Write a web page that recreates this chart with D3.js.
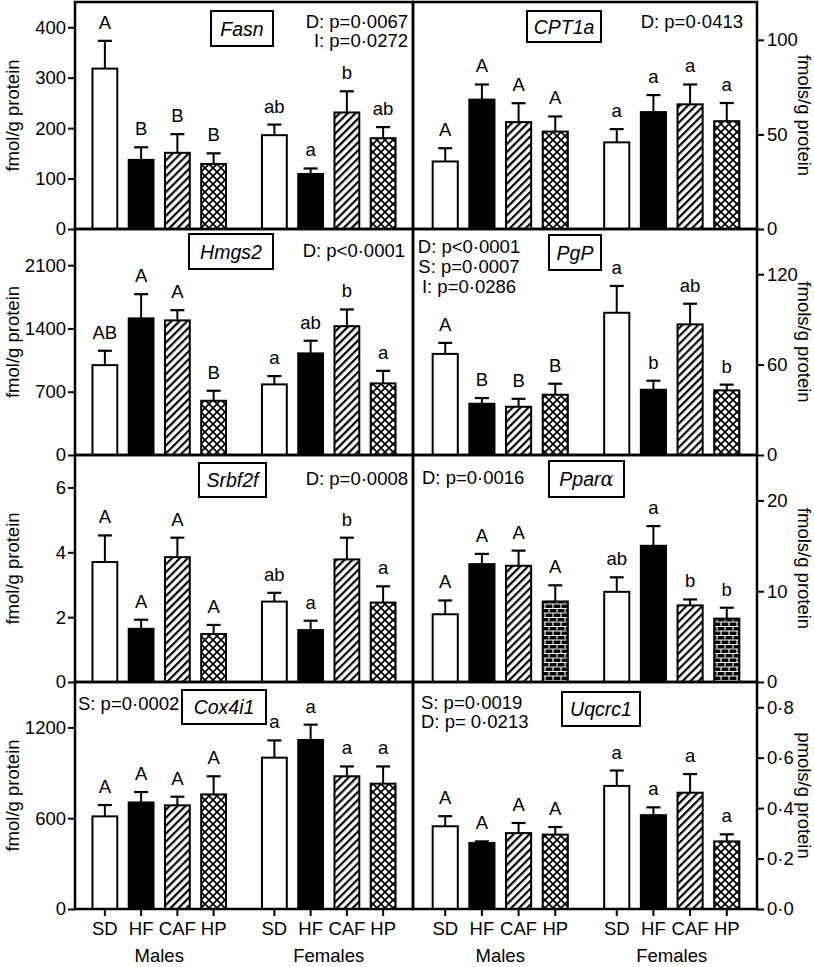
<!DOCTYPE html>
<html><head><meta charset="utf-8">
<script src="https://cdn.jsdelivr.net/npm/d3@7"></script>
<style>
body{margin:0;background:#fff}
svg{display:block}
text{font-family:"Liberation Sans",Arial,sans-serif;fill:#000}
</style>
</head><body>
<svg id="c" width="814" height="967"></svg>
<script>
// ---------------- DATA ----------------
const diets = ["SD","HF","CAF","HP"];
const sexes = ["Males","Females"];
const genes = ["Fasn","CPT1a","Hmgs2","PgP","Srbf2f","Ppar\u03b1","Cox4i1","Uqcrc1"];
// order of values: Males SD, HF, CAF, HP, Females SD, HF, CAF, HP
const fasnMean   = [318,137,151,129,186,109,231,180];
const fasnErr    = [55,25,37,21,21,11,42,22];
const fasnLetters= ["A","B","B","B","ab","a","b","ab"];
const fasnStats  = ["D: p=0\u00b70067","I: p=0\u00b70272"];
const fasnTicks  = [0,100,200,300,400];

const cpt1aMean   = [35.7,68.4,56.5,51.5,45.8,61.8,65.9,57.0];
const cpt1aErr    = [7,8,10,8,7,9,10.5,9.6];
const cpt1aLetters= ["A","A","A","A","a","a","a","a"];
const cpt1aStats  = ["D: p=0\u00b70413"];
const cpt1aTicks  = [0,50,100];

const hmgs2Mean   = [994,1511,1489,600,781,1124,1425,792];
const hmgs2Err    = [159,268,113,111,92,140,185,139];
const hmgs2Letters= ["AB","A","A","B","a","ab","b","a"];
const hmgs2Stats  = ["D: p<0\u00b70001"];
const hmgs2Ticks  = [0,700,1400,2100];

const pgpMean   = [67.1,34,32,40,94.4,43.3,86.7,42.9];
const pgpErr    = [7.3,3.8,5.3,7.3,17.8,6,13.7,3.8];
const pgpLetters= ["A","B","B","B","a","b","ab","b"];
const pgpStats  = ["D: p<0\u00b70001","S: p=0\u00b70007","I: p=0\u00b70286"];
const pgpTicks  = [0,60,120];

const srbf2fMean   = [3.70,1.64,3.85,1.48,2.48,1.60,3.78,2.45];
const srbf2fErr    = [0.82,0.28,0.60,0.28,0.27,0.29,0.67,0.50];
const srbf2fLetters= ["A","A","A","A","ab","a","b","a"];
const srbf2fStats  = ["D: p=0\u00b70008"];
const srbf2fTicks  = [0,2,4,6];

const pparaMean   = [7.46,12.98,12.8,8.87,9.93,15.0,8.44,6.98];
const pparaErr    = [1.52,1.13,1.67,1.78,1.6,2.17,0.65,1.2];
const pparaLetters= ["A","A","A","A","ab","a","b","b"];
const pparaStats  = ["D: p=0\u00b70016"];
const pparaTicks  = [0,10,20];

const cox4i1Mean   = [612,704,685,757,1000,1117,877,828];
const cox4i1Err    = [75,69,57,120,114,101,65,114];
const cox4i1Letters= ["A","A","A","A","a","a","a","a"];
const cox4i1Stats  = ["S: p=0\u00b70002"];
const cox4i1Ticks  = [0,600,1200];

const uqcrc1Mean   = [0.328,0.262,0.301,0.295,0.488,0.372,0.461,0.268];
const uqcrc1Err    = [0.040,0.006,0.040,0.030,0.061,0.031,0.074,0.028];
const uqcrc1Letters= ["A","A","A","A","a","a","a","a"];
const uqcrc1Stats  = ["S: p=0\u00b70019","D: p= 0\u00b70213"];
const uqcrc1Ticks  = [0,0.2,0.4,0.6,0.8];

const yMax = [450,120,2500,150,7,25,1500,0.9];
const yTitles = ["fmol/g protein","fmols/g protein","fmol/g protein","fmols/g protein",
                 "fmol/g protein","fmols/g protein","fmol/g protein","pmols/g protein"];

const series = [
  {mean:fasnMean,err:fasnErr,letters:fasnLetters,stats:fasnStats,ticks:fasnTicks},
  {mean:cpt1aMean,err:cpt1aErr,letters:cpt1aLetters,stats:cpt1aStats,ticks:cpt1aTicks},
  {mean:hmgs2Mean,err:hmgs2Err,letters:hmgs2Letters,stats:hmgs2Stats,ticks:hmgs2Ticks},
  {mean:pgpMean,err:pgpErr,letters:pgpLetters,stats:pgpStats,ticks:pgpTicks},
  {mean:srbf2fMean,err:srbf2fErr,letters:srbf2fLetters,stats:srbf2fStats,ticks:srbf2fTicks},
  {mean:pparaMean,err:pparaErr,letters:pparaLetters,stats:pparaStats,ticks:pparaTicks},
  {mean:cox4i1Mean,err:cox4i1Err,letters:cox4i1Letters,stats:cox4i1Stats,ticks:cox4i1Ticks},
  {mean:uqcrc1Mean,err:uqcrc1Err,letters:uqcrc1Letters,stats:uqcrc1Stats,ticks:uqcrc1Ticks}
];

// ---------------- LAYOUT ----------------
const colX = [[75,413],[413,757]];
const xRange = [[75,413],[415,757]];
const rowY = [[2,229],[229,455],[455,682],[682,909]];
// title boxes [x0,x1,y0,y1] absolute
const titleBox = [[211,273,11,46],[527,601,11,42],[189,273,234,269],[549,601,235,270],
                  [199,266,463,497],[549,624,461,497],[182,266,690,724],[562,640,692,726]];
// stats text: x, anchor, baselines
const statsPos = [
  {x:408,a:"end",y:[28,47]},
  {x:743,a:"end",y:[28]},
  {x:405,a:"end",y:[257]},
  {x:469,a:"middle",y:[253,273,293]},
  {x:408,a:"end",y:[485]},
  {x:422,a:"start",y:[484]},
  {x:78,a:"start",y:[710]},
  {x:421,a:"start",y:[709,728]}
];
const FS = 18.5;

const svg = d3.select("#c");
const defs = svg.append("defs");
// diagonal hatch
const hatch = defs.append("pattern").attr("id","hatch").attr("patternUnits","userSpaceOnUse")
  .attr("width",5.6).attr("height",5.6).attr("patternTransform","rotate(45)");
hatch.append("rect").attr("width",5.6).attr("height",5.6).attr("fill","#fff");
hatch.append("rect").attr("x",0).attr("y",0).attr("width",2.2).attr("height",5.6).attr("fill","#000");
// cross hatch (black with white diamonds)
const cross = defs.append("pattern").attr("id","cross").attr("patternUnits","userSpaceOnUse")
  .attr("width",8).attr("height",8).attr("x",1).attr("y",0);
cross.append("rect").attr("width",8).attr("height",8).attr("fill","#000");
function dia(cx,cy,r){return `M${cx},${cy-r}L${cx+r},${cy}L${cx},${cy+r}L${cx-r},${cy}Z`;}
cross.append("path").attr("fill","#fff")
  .attr("d",[dia(4,4,2.8),dia(0,0,2.8),dia(8,0,2.8),dia(0,8,2.8),dia(8,8,2.8)].join(""));
// brick
const brick = defs.append("pattern").attr("id","brick").attr("patternUnits","userSpaceOnUse")
  .attr("width",8).attr("height",9);
brick.append("rect").attr("width",8).attr("height",9).attr("fill","#000");
brick.append("path").attr("stroke","#fff").attr("stroke-width",1.1).attr("fill","none")
  .attr("d","M0,1H8M0,5.5H8M1,1V5.5M5,5.5V9");

const fills = {SD:"#fff",HF:"#000",CAF:"url(#hatch)",HP:"url(#cross)"};
const fmtDot = d => d3.format(".1f")(d).replace(".","\u00b7");

series.forEach((s,i)=>{
  const col = i%2, row = Math.floor(i/2);
  const [x0,x1] = colX[col];
  const [y0,y1] = rowY[row];
  const y = d3.scaleLinear().domain([0,yMax[i]]).range([y1,y0]);
  const xo = d3.scaleBand().domain(sexes).range(xRange[col]).paddingInner(0.212).paddingOuter(0.103);
  const xi = d3.scaleBand().domain(diets).range([0,xo.bandwidth()]).paddingInner(0.315).paddingOuter(0);
  const data = s.mean.map((m,k)=>({sex:sexes[Math.floor(k/4)],diet:diets[k%4],mean:m,err:s.err[k],letter:s.letters[k]}));
  const cx = d => xo(d.sex)+xi(d.diet)+xi.bandwidth()/2;
  const g = svg.append("g");

  g.selectAll("rect.bar").data(data).enter().append("rect").attr("class","bar")
    .attr("x",d=>xo(d.sex)+xi(d.diet)).attr("width",xi.bandwidth())
    .attr("y",d=>y(d.mean)).attr("height",d=>y1-y(d.mean))
    .attr("fill",d=> (d.diet==="HP" && i===5) ? "url(#brick)" : fills[d.diet])
    .attr("stroke","#000").attr("stroke-width",2);

  // error bars
  g.selectAll("line.eb").data(data).enter().append("line").attr("class","eb")
    .attr("x1",cx).attr("x2",cx).attr("y1",d=>y(d.mean)).attr("y2",d=>y(d.mean+d.err))
    .attr("stroke","#000").attr("stroke-width",2);
  g.selectAll("line.cap").data(data).enter().append("line").attr("class","cap")
    .attr("x1",d=>cx(d)-7).attr("x2",d=>cx(d)+7).attr("y1",d=>y(d.mean+d.err)).attr("y2",d=>y(d.mean+d.err))
    .attr("stroke","#000").attr("stroke-width",2.2);
  // letters
  g.selectAll("text.lt").data(data).enter().append("text").attr("class","lt")
    .attr("x",cx).attr("y",d=>y(d.mean+d.err)-12).attr("text-anchor","middle")
    .attr("font-size",FS).text(d=>d.letter);

  // frame
  g.append("rect").attr("x",x0).attr("y",y0).attr("width",x1-x0).attr("height",y1-y0)
    .attr("fill","none").attr("stroke","#000").attr("stroke-width",2.5);

  // y axis
  const fmt = i===7 ? fmtDot : d3.format("d");
  const ax = (col===0 ? d3.axisLeft(y) : d3.axisRight(y))
    .tickValues(s.ticks).tickSize(7).tickPadding(col===0?2:3).tickFormat(fmt);
  const ag = g.append("g").attr("transform",`translate(${col===0?x0:x1},0)`).call(ax);
  ag.select(".domain").remove();
  ag.selectAll(".tick line").attr("stroke","#000").attr("stroke-width",2);
  ag.selectAll(".tick text").attr("font-size",FS).attr("font-family","Liberation Sans, Arial, sans-serif").attr("fill","#000");

  // y title
  const ym = (y0+y1)/2;
  if(col===0){
    g.append("text").attr("transform",`translate(19,${ym}) rotate(-90)`).attr("text-anchor","middle")
      .attr("font-size",FS).text(yTitles[i]);
  } else {
    g.append("text").attr("transform",`translate(798,${ym}) rotate(90)`).attr("text-anchor","middle")
      .attr("font-size",FS).text(yTitles[i]);
  }

  // title box
  const tb = titleBox[i];
  g.append("rect").attr("x",tb[0]).attr("y",tb[2]).attr("width",tb[1]-tb[0]).attr("height",tb[3]-tb[2])
    .attr("fill","#fff").attr("stroke","#000").attr("stroke-width",2);
  const tt = g.append("text").attr("x",(tb[0]+tb[1])/2).attr("y",(tb[2]+tb[3])/2+7)
    .attr("text-anchor","middle").attr("font-size",19.5).attr("font-style","italic");
  if(i===5){
    tt.append("tspan").text("Ppar");
    tt.append("tspan").attr("font-family","DejaVu Serif, serif").text("\u03b1");
  } else tt.text(genes[i]);

  // stats
  const sp = statsPos[i];
  s.stats.forEach((t,k)=>{
    g.append("text").attr("x",sp.x).attr("y",sp.y[k]).attr("text-anchor",sp.a).attr("font-size",FS).text(t);
  });

  // bottom x axis
  if(row===3){
    g.selectAll("line.xt").data(data).enter().append("line").attr("class","xt")
      .attr("x1",cx).attr("x2",cx).attr("y1",y1).attr("y2",y1+7).attr("stroke","#000").attr("stroke-width",2);
    g.selectAll("text.xl").data(data).enter().append("text").attr("class","xl")
      .attr("x",cx).attr("y",y1+26).attr("text-anchor","middle").attr("font-size",FS).text(d=>d.diet);
    g.selectAll("text.sx").data(sexes).enter().append("text").attr("class","sx")
      .attr("x",d=>xo(d)+xo.bandwidth()/2).attr("y",y1+53).attr("text-anchor","middle").attr("font-size",FS).text(d=>d);
  }
});
</script>
</body></html>
